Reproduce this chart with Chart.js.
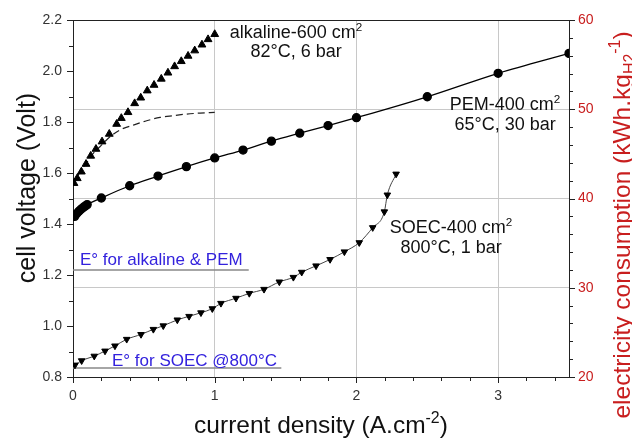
<!DOCTYPE html>
<html>
<head>
<meta charset="utf-8">
<script src="https://cdn.jsdelivr.net/npm/chart.js@4.4.1/dist/chart.umd.min.js"></script>
<style>
  body { margin: 0; background: #fff; }
  #wrap { width: 632px; height: 440px; position: relative; }
</style>
</head>
<body>
<div id="wrap"><canvas id="polcurves"></canvas></div>
<script>
// alkaline 600 cm2, measured points (triangles)
const alk_x = [0.007, 0.03, 0.059, 0.092, 0.125, 0.162, 0.205, 0.256, 0.308, 0.341, 0.388, 0.435, 0.478, 0.524, 0.572, 0.623, 0.67, 0.717, 0.764, 0.812, 0.859, 0.91, 0.953, 1.0];
const alk_v = [1.56, 1.579, 1.605, 1.635, 1.667, 1.694, 1.723, 1.753, 1.792, 1.815, 1.838, 1.873, 1.895, 1.923, 1.945, 1.969, 1.993, 2.018, 2.038, 2.059, 2.08, 2.103, 2.124, 2.144];
// alkaline dashed curve
const alk_dash_x = [0, 0.05, 0.1, 0.15, 0.19, 0.261, 0.332, 0.426, 0.52, 0.614, 0.708, 0.8, 0.896, 1.0];
const alk_dash_v = [1.55, 1.605, 1.643, 1.682, 1.703, 1.742, 1.769, 1.788, 1.805, 1.818, 1.825, 1.831, 1.835, 1.838];
// PEM 400 cm2 (circles)
const pem_x = [0.012, 0.025, 0.04, 0.055, 0.07, 0.085, 0.1, 0.2, 0.4, 0.6, 0.8, 1.0, 1.2, 1.4, 1.6, 1.8, 2.0, 2.5, 3.0, 3.5];
const pem_v = [1.43, 1.44, 1.449, 1.457, 1.464, 1.47, 1.476, 1.502, 1.55, 1.588, 1.625, 1.659, 1.69, 1.725, 1.756, 1.786, 1.817, 1.899, 1.991, 2.069];
// SOEC 400 cm2 (down triangles)
const soec_x = [0.014, 0.061, 0.15, 0.226, 0.296, 0.379, 0.48, 0.567, 0.637, 0.736, 0.819, 0.903, 0.983, 1.044, 1.15, 1.244, 1.348, 1.456, 1.555, 1.614, 1.715, 1.814, 1.915, 2.02, 2.115, 2.197, 2.218, 2.28];
const soec_v = [0.847, 0.864, 0.882, 0.902, 0.922, 0.948, 0.967, 0.987, 1.001, 1.024, 1.038, 1.052, 1.068, 1.089, 1.109, 1.128, 1.144, 1.173, 1.191, 1.211, 1.236, 1.261, 1.291, 1.327, 1.386, 1.448, 1.514, 1.596];
// reversible voltage lines
const e_alk_x = [0, 1.24];
const e_alk_v = [1.22, 1.22];
const e_soec_x = [0, 1.47];
const e_soec_v = [0.835, 0.835];

// tick values
const x_ticks = [0, 1, 2, 3];
const y_ticks = [0.8, 1.0, 1.2, 1.4, 1.6, 1.8, 2.0, 2.2];
const y2_ticks = [20, 30, 40, 50, 60];

function to_points(xs, ys)
{
    return xs.map((x, i) => ({x: x, y: ys[i]}));
}

const FONT = 'Arial, "Liberation Sans", sans-serif';
const RED = '#c81e1e';
const BLUE = '#3322dd';
const GRID = '#c8c8c8';
Chart.defaults.font.family = FONT;

// draws a string with a superscript / subscript piece list, returns width
function draw_pieces(ctx, pieces, x, y, size, align)
{
    let total = 0;
    pieces.forEach(p => {
        ctx.font = (p.s ? size * 0.65 : size) + 'px ' + FONT;
        p.w = ctx.measureText(p.t).width;
        total += p.w;
    });
    let cx = align === 'center' ? x - total / 2 : x;
    ctx.textAlign = 'left';
    ctx.textBaseline = 'alphabetic';
    pieces.forEach(p => {
        ctx.font = (p.s ? size * 0.65 : size) + 'px ' + FONT;
        let dy = 0;
        if (p.s === 'sup') dy = -size * 0.4;
        if (p.s === 'sub') dy = size * 0.22;
        ctx.fillText(p.t, cx, y + dy);
        cx += p.w;
    });
    return total;
}

const extras = {
    id: 'extras',
    afterDraw(chart) {
        const ctx = chart.ctx;
        const a = chart.chartArea;
        const sx = chart.scales.x, sy = chart.scales.y, sy2 = chart.scales.y2;
        ctx.save();
        // frame top line
        ctx.strokeStyle = '#222';
        ctx.lineWidth = 1;
        ctx.beginPath();
        ctx.moveTo(a.left, a.top + 0.5);
        ctx.lineTo(a.right, a.top + 0.5);
        ctx.stroke();

        // tick marks, major and minor, pointing out
        ctx.beginPath();
        for (let i = 0; i <= 17; i++) {
            const px = Math.round(sx.getPixelForValue(i * 0.2)) + 0.5;
            const len = (i % 5 === 0) ? 6 : 4;
            ctx.moveTo(px, a.bottom);
            ctx.lineTo(px, a.bottom + len);
        }
        for (let i = 0; i <= 14; i++) {
            const py = Math.round(sy.getPixelForValue(0.8 + i * 0.1)) + 0.5;
            const len = (i % 2 === 0) ? 6 : 4;
            ctx.moveTo(a.left, py);
            ctx.lineTo(a.left - len, py);
        }
        for (let i = 0; i <= 20; i++) {
            const py = Math.round(sy2.getPixelForValue(20 + i * 2)) + 0.5;
            const len = (i % 5 === 0) ? 6 : 4;
            ctx.moveTo(a.right, py);
            ctx.lineTo(a.right + len, py);
        }
        ctx.stroke();

        // curve labels
        ctx.fillStyle = '#111';
        draw_pieces(ctx, [{t: 'alkaline-600 cm'}, {t: '2', s: 'sup'}], sx.getPixelForValue(1.574), sy.getPixelForValue(2.129), 18, 'center');
        draw_pieces(ctx, [{t: '82°C, 6 bar'}], sx.getPixelForValue(1.574), sy.getPixelForValue(2.055), 18, 'center');
        draw_pieces(ctx, [{t: 'PEM-400 cm'}, {t: '2', s: 'sup'}], sx.getPixelForValue(3.049), sy.getPixelForValue(1.847), 18, 'center');
        draw_pieces(ctx, [{t: '65°C, 30 bar'}], sx.getPixelForValue(3.049), sy.getPixelForValue(1.769), 18, 'center');
        draw_pieces(ctx, [{t: 'SOEC-400 cm'}, {t: '2', s: 'sup'}], sx.getPixelForValue(2.668), sy.getPixelForValue(1.365), 18, 'center');
        draw_pieces(ctx, [{t: '800°C, 1 bar'}], sx.getPixelForValue(2.668), sy.getPixelForValue(1.286), 18, 'center');

        ctx.fillStyle = BLUE;
        draw_pieces(ctx, [{t: 'E° for alkaline & PEM'}], sx.getPixelForValue(0.049), sy.getPixelForValue(1.239), 17, 'left');
        draw_pieces(ctx, [{t: 'E° for SOEC @800°C'}], sx.getPixelForValue(0.275), sy.getPixelForValue(0.843), 17, 'left');

        // axis titles
        ctx.fillStyle = '#111';
        draw_pieces(ctx, [{t: 'current density (A.cm'}, {t: '-2', s: 'sup'}, {t: ')'}], (a.left + a.right) / 2, 433, 24.5, 'center');

        ctx.save();
        ctx.translate(35, 188);
        ctx.rotate(-Math.PI / 2);
        draw_pieces(ctx, [{t: 'cell voltage (Volt)'}], 0, 0, 25, 'center');
        ctx.restore();

        ctx.save();
        ctx.fillStyle = RED;
        ctx.translate(630, 225);
        ctx.rotate(-Math.PI / 2);
        draw_pieces(ctx, [{t: 'electricity consumption (kWh.kg'}, {t: 'H2', s: 'sub'}, {t: '-1', s: 'sup'}, {t: ')'}], 0, 0, 24.5, 'center');
        ctx.restore();

        ctx.restore();
    }
};

const ctx_pol = document.getElementById('polcurves').getContext('2d');
const pol_chart = new Chart(ctx_pol,
    {
        type: 'scatter',
        data: {
            datasets: [
                {
                    label: 'alkaline',
                    data: to_points(alk_x, alk_v),
                    showLine: false,
                    pointStyle: 'triangle',
                    pointRadius: 4.5,
                    backgroundColor: '#000',
                    borderColor: '#000',
                    borderWidth: 1
                },
                {
                    label: 'PEM',
                    data: to_points(pem_x, pem_v),
                    showLine: true,
                    cubicInterpolationMode: 'monotone',
                    pointStyle: 'circle',
                    pointRadius: 4,
                    backgroundColor: '#000',
                    borderColor: '#000',
                    borderWidth: 1.3
                },
                {
                    label: 'SOEC',
                    data: to_points(soec_x, soec_v),
                    showLine: true,
                    cubicInterpolationMode: 'monotone',
                    pointStyle: 'triangle',
                    rotation: 180,
                    pointRadius: 3.8,
                    backgroundColor: '#000',
                    borderColor: '#444',
                    pointBorderColor: '#000',
                    borderWidth: 1
                },
                {
                    label: 'alkaline model',
                    data: to_points(alk_dash_x, alk_dash_v),
                    showLine: true,
                    cubicInterpolationMode: 'monotone',
                    pointRadius: 0,
                    borderColor: '#222',
                    borderWidth: 1.2,
                    borderDash: [7, 4]
                },
                {
                    label: 'E alk',
                    data: to_points(e_alk_x, e_alk_v),
                    showLine: true,
                    pointRadius: 0,
                    borderColor: '#888',
                    borderWidth: 1.5
                },
                {
                    label: 'E soec',
                    data: to_points(e_soec_x, e_soec_v),
                    showLine: true,
                    pointRadius: 0,
                    borderColor: '#888',
                    borderWidth: 1.5
                }
            ]
        },
        options: {
            responsive: true,
            maintainAspectRatio: false,
            animation: false,
            layout: { padding: { top: 20, left: 0, right: 0, bottom: 0 } },
            plugins: {
                legend: { display: false },
                tooltip: { enabled: false }
            },
            scales: {
                x: {
                    type: 'linear',
                    min: 0,
                    max: 3.5,
                    afterBuildTicks: (s) => { s.ticks = x_ticks.map(v => ({value: v})); },
                    afterFit: (s) => { s.height = 63; },
                    ticks: {
                        color: '#333',
                        font: { size: 14 },
                        padding: 11,
                        callback: (v) => String(v)
                    },
                    grid: {
                        drawTicks: false,
                        color: (c) => (c.tick && c.tick.value > 0) ? GRID : 'rgba(0,0,0,0)'
                    },
                    border: { color: '#222', width: 1 }
                },
                y: {
                    type: 'linear',
                    position: 'left',
                    min: 0.8,
                    max: 2.2,
                    afterBuildTicks: (s) => { s.ticks = y_ticks.map(v => ({value: v})); },
                    afterFit: (s) => { s.width = 73; },
                    ticks: {
                        color: '#333',
                        font: { size: 14 },
                        padding: 11,
                        callback: (v) => v.toFixed(1)
                    },
                    grid: { drawTicks: false, drawOnChartArea: false },
                    border: { color: '#222', width: 1 }
                },
                y2: {
                    type: 'linear',
                    position: 'right',
                    min: 20,
                    max: 60,
                    afterBuildTicks: (s) => { s.ticks = y2_ticks.map(v => ({value: v})); },
                    afterFit: (s) => { s.width = 63; },
                    ticks: {
                        color: RED,
                        font: { size: 14 },
                        padding: 9,
                        callback: (v) => String(v)
                    },
                    grid: {
                        drawTicks: false,
                        color: (c) => (c.tick && c.tick.value > 20 && c.tick.value < 60) ? GRID : 'rgba(0,0,0,0)'
                    },
                    border: { color: '#222', width: 1 }
                }
            }
        },
        plugins: [extras]
    });
</script>
</body>
</html>
